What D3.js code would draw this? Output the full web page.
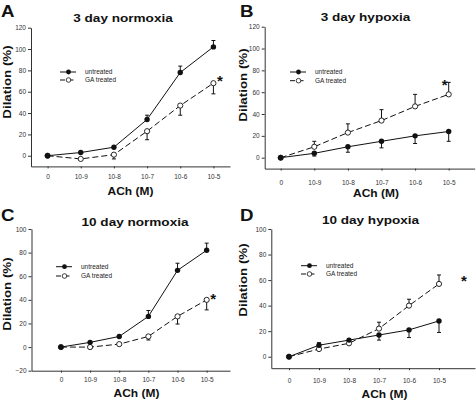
<!DOCTYPE html>
<html><head><meta charset="utf-8">
<script src="https://cdn.jsdelivr.net/npm/d3@7"></script>
<style>body{margin:0;background:#fff}svg{display:block}</style>
</head><body>
<script>
const categories = ["0","10-9","10-8","10-7","10-6","10-5"];
const titles = ["3 day normoxia","3 day hypoxia","10 day normoxia","10 day hypoxia"];
const letters = ["A","B","C","D"];
const seriesNames = ["untreated","GA treated"];
const xLabel = "ACh (M)";
const yLabel = "Dilation (%)";

const aUntreated = [0, 3, 8, 34, 78, 102];
const aUntreatedErr = [null, null, null, 38, 84, 108];
const aTreated = [0, -3, 1, 23, 47, 68];
const aTreatedErr = [null, null, -3, 15, 38, 58];

const bUntreated = [0, 4, 10, 15, 20, 24];
const bUntreatedErr = [null, 1.5, 5, 9, 13, 15];
const bTreated = [0, 10, 23, 34, 47, 58];
const bTreatedErr = [null, 15, 31, 44, 58, 69];

const cUntreated = [0, 4, 9, 26, 65, 82];
const cUntreatedErr = [null, null, null, 31, 71, 88];
const cTreated = [0, 0, 2.5, 9, 26, 40];
const cTreatedErr = [null, null, null, 6, 19.5, 31.5];

const dUntreated = [0, 9, 13, 17, 21, 28];
const dUntreatedErr = [null, 11, null, 13, 15, 19];
const dTreated = [0, 6, 10.5, 22, 40, 57];
const dTreatedErr = [null, null, null, 27, 45, 64];

const yTicksA = [0, 20, 40, 60, 80, 100, 120];
const yTicksC = [-20, 0, 20, 40, 60, 80, 100];
const yTicksD = [0, 20, 40, 60, 80, 100];

const FONT = '"Liberation Sans", Arial, Helvetica, sans-serif';

const panels = [
  {u: aUntreated, ue: aUntreatedErr, t: aTreated, te: aTreatedErr, yTicks: yTicksA, yDom: [-10,120],
   xr: [31, 230], xd: [-0.5, 5.5], yr: [166.4, 27.7], title: [123, 21.5], letter: [1, 16.5], xl: [130.5, 194.5], yl: [10.5, 82],
   tickLabY: 179, legend: [60, 72, 80], star: [6.6, -6]},
  {u: bUntreated, ue: bUntreatedErr, t: bTreated, te: bTreatedErr, yTicks: yTicksA, yDom: [-10,120],
   xr: [264.7, 474.7], xd: [-0.476, 5.774], yr: [168.6, 26.7], title: [365.5, 21], letter: [240, 16.5], xl: [376, 196.5], yl: [246.5, 85],
   tickLabY: 185, legend: [290, 72, 80.7], star: [-4, -13]},
  {u: cUntreated, ue: cUntreatedErr, t: cTreated, te: cTreatedErr, yTicks: yTicksC, yDom: [-20,100],
   xr: [31.5, 230], xd: [-1.01, 5.8], yr: [370.7, 229], title: [135, 226], letter: [1, 220.5], xl: [136.5, 397], yl: [10.5, 294],
   tickLabY: 382.5, legend: [56, 266.7, 276], star: [6.6, -4]},
  {u: dUntreated, ue: dUntreatedErr, t: dTreated, te: dTreatedErr, yTicks: yTicksD, yDom: [-9,100],
   xr: [271.3, 475], xd: [-0.59, 6.2], yr: [368.2, 229], title: [370.5, 224], letter: [240, 220.5], xl: [384.5, 398], yl: [246.5, 280],
   tickLabY: 383, legend: [301, 265.7, 274], star: [25, -6]}
];

const svg = d3.select("body").append("svg").attr("width", 476).attr("height", 401)
  .attr("font-family", FONT);
const ink = "#111";

function txt(g, s, x, y, size, opts = {}) {
  const t = g.append("text")
    .attr("transform", `translate(${x},${y})` + (opts.rotate ? ` rotate(${opts.rotate})` : "") + (opts.sx ? ` scale(${opts.sx},1)` : ""))
    .attr("font-family", FONT).attr("font-size", size).attr("fill", opts.fill || ink)
    .attr("font-weight", opts.bold ? "bold" : "normal")
    .attr("text-anchor", opts.anchor || "start").text(s);
  return t;
}

panels.forEach((p, pi) => {
  const g = svg.append("g");
  const x = d3.scaleLinear().domain(p.xd).range(p.xr);
  const y = d3.scaleLinear().domain(p.yDom).range(p.yr);
  const idx = categories.map((c, i) => i);

  const ya = g.append("g").attr("transform", `translate(${p.xr[0]},0)`)
    .call(d3.axisLeft(y).tickValues(p.yTicks).tickSize(3).tickPadding(2).tickSizeOuter(0));
  const xa = g.append("g").attr("transform", `translate(0,${p.yr[0]})`)
    .call(d3.axisBottom(x).tickValues(idx).tickFormat(i => categories[i]).tickSize(2).tickPadding(0).tickSizeOuter(0));
  [ya, xa].forEach(a => {
    a.attr("font-family", FONT);
    a.select(".domain").attr("stroke", "#333").attr("stroke-width", 1);
    a.selectAll(".tick line").attr("stroke", "#333");
    a.selectAll(".tick text").attr("fill", "#333").attr("font-size", 6.5).attr("font-family", FONT);
  });
  xa.selectAll(".tick text").attr("dy", null).attr("y", p.tickLabY - p.yr[0]);

  const drawErr = (vals, errs) => {
    idx.forEach(i => {
      if (errs[i] === null) return;
      g.append("line").attr("x1", x(i)).attr("x2", x(i)).attr("y1", y(vals[i])).attr("y2", y(errs[i]))
        .attr("stroke", ink).attr("stroke-width", 1);
      g.append("line").attr("x1", x(i) - 2).attr("x2", x(i) + 2).attr("y1", y(errs[i])).attr("y2", y(errs[i]))
        .attr("stroke", ink).attr("stroke-width", 1);
    });
  };
  drawErr(p.u, p.ue);
  drawErr(p.t, p.te);

  const line = d3.line().x((d, i) => x(i)).y(d => y(d));
  g.append("path").datum(p.t).attr("d", line).attr("fill", "none").attr("stroke", ink)
    .attr("stroke-width", 1).attr("stroke-dasharray", "6,3");
  g.append("path").datum(p.u).attr("d", line).attr("fill", "none").attr("stroke", ink).attr("stroke-width", 1);

  g.selectAll(".mt").data(p.t).join("circle").attr("cx", (d, i) => x(i)).attr("cy", d => y(d)).attr("r", 2.6)
    .attr("fill", "#fff").attr("stroke", ink).attr("stroke-width", 0.9);
  g.selectAll(".mu").data(p.u).join("circle").attr("cx", (d, i) => x(i)).attr("cy", d => y(d)).attr("r", 2.7)
    .attr("fill", ink);

  txt(g, "*", x(5) + p.star[0], y(p.t[5]) + p.star[1] + 8.5, 15, {bold: true, anchor: "middle"});

  const [lx, ly1, ly2] = p.legend;
  g.append("line").attr("x1", lx).attr("x2", lx + 16).attr("y1", ly1).attr("y2", ly1).attr("stroke", ink);
  g.append("circle").attr("cx", lx + 8.5).attr("cy", ly1).attr("r", 2.4).attr("fill", ink);
  g.append("line").attr("x1", lx).attr("x2", lx + 16).attr("y1", ly2).attr("y2", ly2).attr("stroke", ink)
    .attr("stroke-dasharray", "5,3.5");
  g.append("circle").attr("cx", lx + 8.5).attr("cy", ly2).attr("r", 2.3).attr("fill", "#fff").attr("stroke", ink).attr("stroke-width", 0.8);
  txt(g, seriesNames[0], lx + 25, ly1 + 2.3, 6.5, {fill: "#222"});
  txt(g, seriesNames[1], lx + 25, ly2 + 2.3, 6.5, {fill: "#222"});

  txt(g, titles[pi], p.title[0], p.title[1], 11.8, {bold: true, anchor: "middle", sx: 1.15});
  txt(g, letters[pi], p.letter[0], p.letter[1], 17, {bold: true, sx: 1.1});
  txt(g, xLabel, p.xl[0], p.xl[1], 11.3, {bold: true, anchor: "middle", sx: 1.06});
  txt(g, yLabel, p.yl[0], p.yl[1], 11.6, {bold: true, anchor: "middle", sx: 1.15, rotate: -90});
});
</script>
</body></html>
